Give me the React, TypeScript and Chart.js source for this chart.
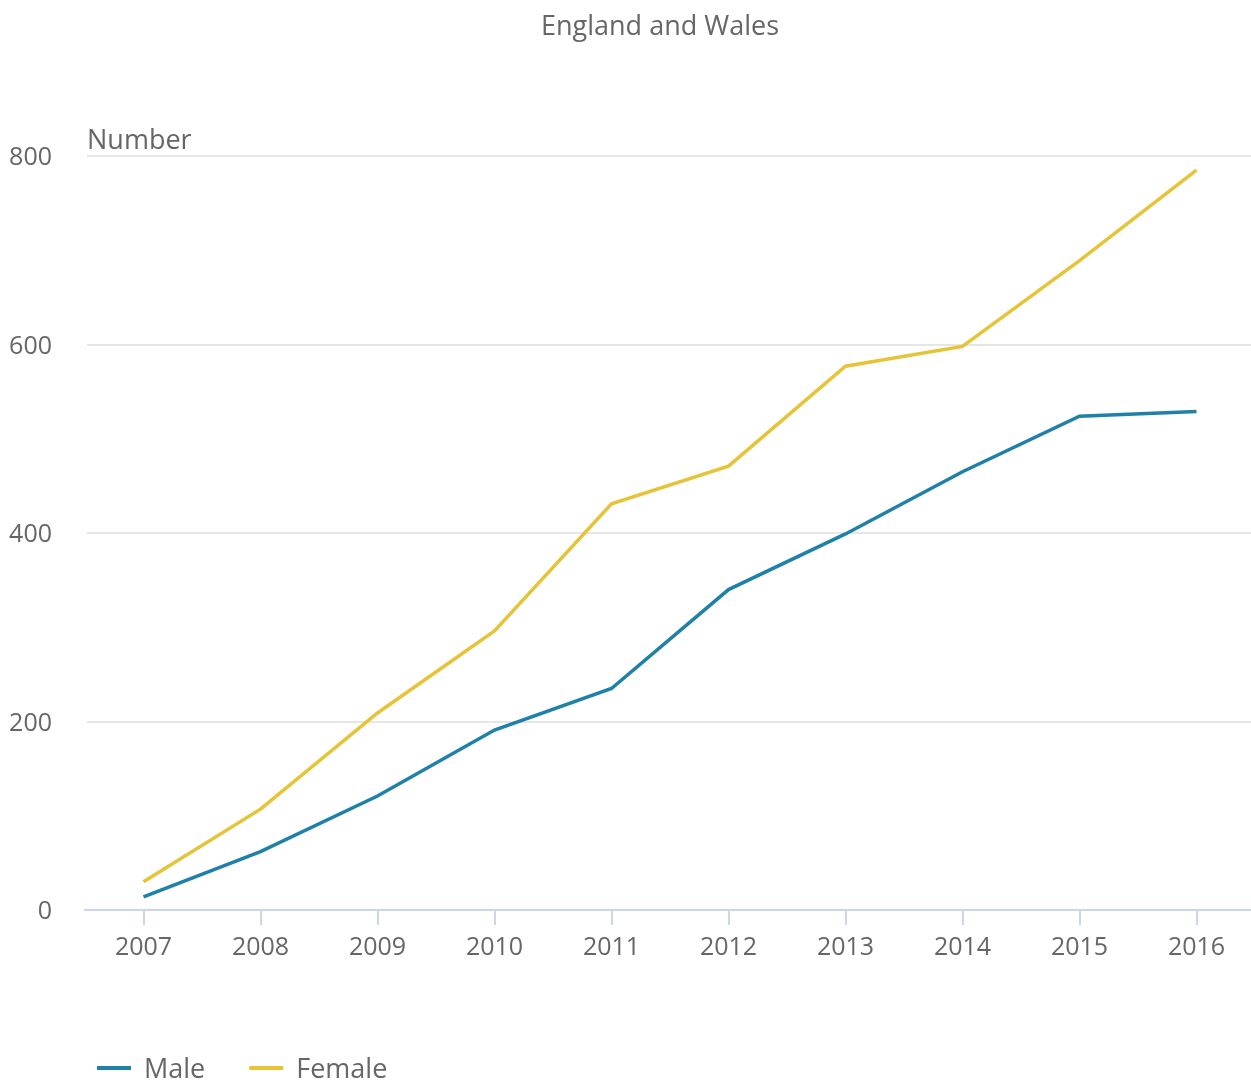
import React, { useEffect, useRef } from "react";
import { Chart, registerables } from "chart.js";

Chart.register(...registerables);

const years = ["2007", "2008", "2009", "2010", "2011", "2012", "2013", "2014", "2015", "2016"];
const maleValues = [14, 62, 121, 191, 235, 340, 399, 465, 524, 529];
const femaleValues = [30, 107, 209, 296, 431, 471, 577, 598, 689, 785];
const yTicks = [0, 200, 400, 600, 800];
const titleText = "England and Wales";
const yLabelText = "Number";

const FONT = "'Open Sans', sans-serif";
const TEXT = "#666666";

const xStretch = {
  id: "xStretch",
  afterLayout(chart: any) {
    const x = chart.scales.x;
    x.left = 85;
    x.right = 1255;
    x.width = 1170;
    x.configure();
  },
};

const extras = {
  id: "extras",
  afterDraw(chart: any) {
    const ctx = chart.ctx;
    const a = chart.chartArea;
    ctx.save();
    // title
    ctx.font = `27px ${FONT}`;
    ctx.fillStyle = TEXT;
    ctx.textAlign = "center";
    ctx.textBaseline = "middle";
    ctx.fillText(titleText, 660, 27);
    // unit label
    ctx.textAlign = "left";
    ctx.fillText(yLabelText, a.left, a.top - 15);
    // legend
    let x = 97;
    const y = 1068;
    chart.data.datasets.forEach((d: any) => {
      ctx.strokeStyle = d.borderColor;
      ctx.lineWidth = 4;
      ctx.beginPath();
      ctx.moveTo(x, y);
      ctx.lineTo(x + 34, y);
      ctx.stroke();
      ctx.fillStyle = TEXT;
      ctx.textAlign = "left";
      ctx.fillText(d.label, x + 47, y + 2);
      x += 47 + ctx.measureText(d.label).width + 44;
    });
    ctx.restore();
  },
};

export default function App() {
  const ref = useRef<HTMLCanvasElement>(null);
  useEffect(() => {
    document.body.style.margin = "0";
    const chart = new Chart(ref.current!, {
      type: "line",
      data: {
        labels: years,
        datasets: [
          { label: "Male", data: maleValues, borderColor: "#1F80A8", backgroundColor: "#1F80A8", borderWidth: 3.5, pointRadius: 0, tension: 0 },
          { label: "Female", data: femaleValues, borderColor: "#E6C337", backgroundColor: "#E6C337", borderWidth: 3.5, pointRadius: 0, tension: 0 },
        ],
      },
      options: {
        animation: false,
        responsive: false,
        maintainAspectRatio: false,
        layout: { padding: { left: 0, right: 0, top: 156, bottom: 0 } },
        plugins: {
          title: { display: false },
          legend: { display: false },
          tooltip: { enabled: false },
        },
        scales: {
          x: {
            offset: true,
            grid: { offset: false, drawOnChartArea: false, drawTicks: true, tickLength: 15, color: "#ccd6eb", lineWidth: 2 },
            border: { display: true, color: "#ccd6eb", width: 2 },
            ticks: { color: TEXT, font: { family: FONT, size: 25 }, padding: 8, maxRotation: 0 },
            afterFit: (s: any) => { s.height = 172; },
          },
          y: {
            min: 0,
            max: 800,
            afterBuildTicks: (s: any) => { s.ticks = yTicks.map((v) => ({ value: v })); },
            grid: { color: "#e6e6e6", lineWidth: 2, drawTicks: false },
            border: { display: false },
            ticks: { color: TEXT, font: { family: FONT, size: 25 }, padding: 35, labelOffset: 2 },
            afterFit: (s: any) => { s.width = 87; },
          },
        },
      },
      plugins: [xStretch, extras],
    });
    return () => chart.destroy();
  }, []);
  return (
    <div style={{ width: 1251, height: 1082 }}>
      <canvas ref={ref} width={1251} height={1082} style={{ width: 1251, height: 1082, display: "block" }} />
    </div>
  );
}
